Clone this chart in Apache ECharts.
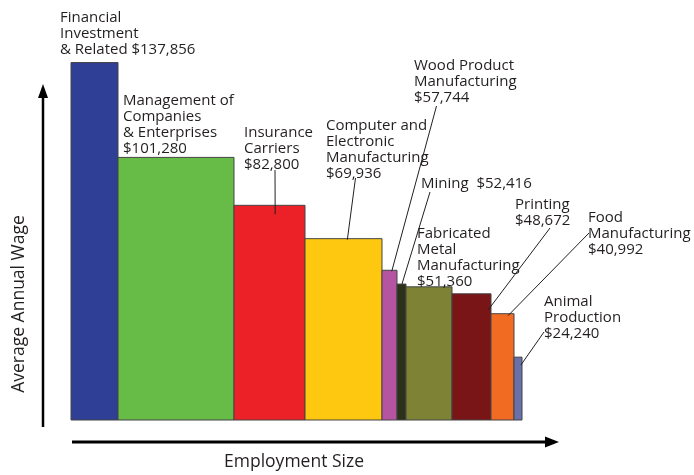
<!DOCTYPE html>
<html>
<head>
<meta charset="utf-8">
<script src="https://cdn.jsdelivr.net/npm/echarts@6/dist/echarts.min.js"></script>
<style>
html,body{margin:0;padding:0;background:#fff;}
#chart{width:694px;height:475px;}
</style>
</head>
<body>
<div id="chart"></div>
<script>
// ---- data ----
const categories = ['Financial Investment & Related', 'Management of Companies & Enterprises', 'Insurance Carriers',
  'Computer and Electronic Manufacturing', 'Wood Product Manufacturing', 'Mining', 'Fabricated Metal Manufacturing',
  'Printing', 'Food Manufacturing', 'Animal Production'];
const wages = [137856, 101280, 82800, 69936, 57744, 52416, 51360, 48672, 40992, 24240];
// relative employment size (bar widths)
const employment = [47, 116, 71, 77, 15, 9, 46, 39, 23, 8];
const labelTexts = [
  'Financial\nInvestment\n& Related $137,856',
  'Management of\nCompanies\n& Enterprises\n$101,280',
  'Insurance\nCarriers\n$82,800',
  'Computer and\nElectronic\nManufacturing\n$69,936',
  'Wood Product\nManufacturing\n$57,744',
  'Mining  $52,416',
  'Fabricated\nMetal\nManufacturing\n$51,360',
  'Printing\n$48,672',
  'Food\nManufacturing\n$40,992',
  'Animal\nProduction\n$24,240'
];

// ---- styles / layout ----
const colors = ['#2e3f95', '#67bb47', '#ec2027', '#fdc80f', '#b554a1', '#2c3119', '#7d8235', '#7a1517', '#f26b22', '#6a70a9'];
const textPos = [[60, 10], [123, 93], [244, 125], [326, 118], [414, 58], [421, 176], [417, 226], [515, 197], [588, 210], [544, 294]];
// leader line: start point (px) and end as fraction across bar + offset below bar top
const leaders = [null, null, {sx: 275, sy: 170, fx: 0.58, dy: 9}, {sx: 355.5, sy: 178, fx: 0.55, dy: 1},
  {sx: 436.5, sy: 106, fx: 0.65, dy: 1}, {sx: 430, sy: 192, fx: 0.55, dy: 0}, null,
  {sx: 550, sy: 228, fx: 0.93, dy: 16}, {sx: 589, sy: 233, fx: 0.74, dy: 2}, {sx: 544, sy: 332, fx: 0.85, dy: 8}];

const FONT = '15px "Open Sans", sans-serif';
const TITLE_FONT = '17.5px "Open Sans", sans-serif';
const TEXT_COLOR = '#231f20';

const items = [];
let acc = 0;
for (let i = 0; i < wages.length; i++) {
  items.push([acc, acc + employment[i], wages[i], i]);
  acc += employment[i];
}
const totalEmp = acc;

const chart = echarts.init(document.getElementById('chart'), null, {renderer: 'canvas'});
chart.setOption({
  animation: false,
  grid: {left: 71, top: 57, width: 451, height: 363},
  xAxis: {type: 'value', min: 0, max: totalEmp, show: false},
  yAxis: {type: 'value', min: 0, max: 140000, show: false},
  series: [{
    type: 'custom',
    clip: false,
    data: items,
    renderItem: function (params, api) {
      const i = api.value(3);
      const p0 = api.coord([api.value(0), api.value(2)]);
      const p1 = api.coord([api.value(1), 0]);
      const children = [{
        type: 'rect',
        shape: {x: p0[0], y: p0[1], width: p1[0] - p0[0], height: p1[1] - p0[1]},
        style: {fill: colors[i], stroke: '#454545', lineWidth: 1}
      }, {
        type: 'text',
        style: {
          text: labelTexts[i], x: textPos[i][0], y: textPos[i][1],
          font: FONT, fill: TEXT_COLOR, lineHeight: 16,
          textAlign: 'left', textVerticalAlign: 'top'
        }
      }];
      const L = leaders[i];
      if (L) {
        children.push({
          type: 'line',
          shape: {x1: L.sx, y1: L.sy, x2: p0[0] + (p1[0] - p0[0]) * L.fx, y2: p0[1] + L.dy},
          style: {stroke: '#231f20', lineWidth: 1}
        });
      }
      return {type: 'group', children: children};
    }
  }],
  graphic: [
    {type: 'line', shape: {x1: 43, y1: 427, x2: 43, y2: 95}, style: {stroke: '#000', lineWidth: 2.5}},
    {type: 'polygon', shape: {points: [[43, 84], [38, 98], [48, 98]]}, style: {fill: '#000'}},
    {type: 'line', shape: {x1: 72, y1: 442, x2: 548, y2: 442}, style: {stroke: '#000', lineWidth: 3}},
    {type: 'polygon', shape: {points: [[559, 442], [545, 436.5], [545, 447.5]]}, style: {fill: '#000'}},
    {type: 'text', x: 19, y: 304, rotation: Math.PI / 2,
      style: {text: 'Average Annual Wage', font: TITLE_FONT, fill: TEXT_COLOR, textAlign: 'center', textVerticalAlign: 'middle'}},
    {type: 'text', x: 294, y: 462,
      style: {text: 'Employment Size', font: TITLE_FONT, fill: TEXT_COLOR, textAlign: 'center', textVerticalAlign: 'middle'}}
  ]
});
</script>
</body>
</html>
